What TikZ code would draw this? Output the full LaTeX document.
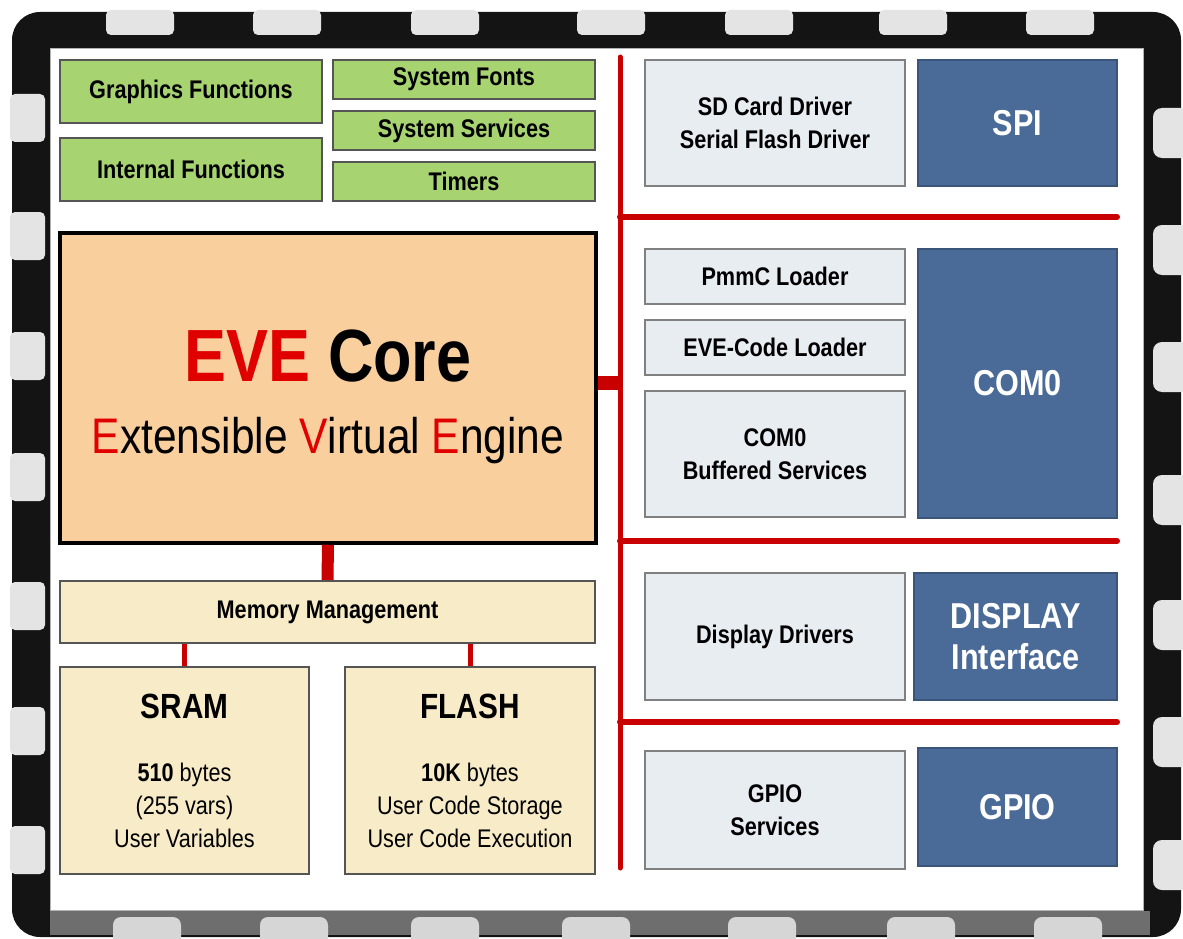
\documentclass[tikz,border=0pt]{standalone}
\usepackage{fontspec}
\setmainfont{Liberation Sans}[FakeStretch=0.85]
\usetikzlibrary{positioning}

\definecolor{chipblack}{HTML}{141414}
\definecolor{pinwhite}{HTML}{E4E4E4}
\definecolor{bandgray}{HTML}{6E6E6E}
\definecolor{pingray}{HTML}{D6D6D6}
\definecolor{funcgreen}{HTML}{A7D371}
\definecolor{corepeach}{HTML}{F9CF9E}
\definecolor{memcream}{HTML}{F8ECC8}
\definecolor{drvgray}{HTML}{E8EDF2}
\definecolor{ifblue}{HTML}{4A6A98}
\definecolor{evered}{HTML}{E00000}
\definecolor{busred}{HTML}{C80000}
\definecolor{edgegray}{HTML}{555555}

\newcommand{\chipsmall}{\fontsize{25.5}{33}\selectfont}
\newcommand{\chiphead}{\fontsize{35}{40}\selectfont}
\newcommand{\chiplabel}{\fontsize{36}{47}\selectfont}

\tikzset{
  funcbox/.style={draw=edgegray, line width=2, fill=funcgreen, font=\chipsmall\bfseries},
  drvbox/.style={draw=gray, line width=2, fill=drvgray, align=center, font=\chipsmall\bfseries},
  ifbox/.style={draw=ifblue!80!black, line width=1.5, fill=ifblue, text=white, align=center, font=\chiplabel\bfseries},
  membox/.style={draw=edgegray, line width=2, fill=memcream, align=center, font=\chipsmall},
  bus/.style={busred, line width=6, line cap=round},
}

\begin{document}
\begin{tikzpicture}[x=1pt, y=-1pt]
    \useasboundingbox (0,0) rectangle (1183,939);

    % chip body
    \fill[chipblack, rounded corners=28] (12,12) rectangle (1181,937);
    \fill[bandgray] (50,911) rectangle (1150,935);

    % pins
    \foreach \px in {106,253,411,577,725,879,1026}
        \fill[pinwhite, rounded corners=5] (\px,10) rectangle ++(68,25);
    \foreach \py in {118,236,356,477,606,731,850}
        \fill[pinwhite, rounded corners=5] (10,\py-24) rectangle ++(35,48);
    \foreach \py in {133,250,367,500,625,742,865}
        \fill[pinwhite, rounded corners=9] (1153,\py-25) rectangle ++(40,50);
    \foreach \px in {113,260,411,562,728,887,1034}
        \fill[pingray, rounded corners=8] (\px,917) rectangle ++(68,30);

    % die
    \draw[fill=white, draw=gray!60] (50,48) rectangle (1143,910);

    % function blocks
    \node[funcbox, minimum width=262, minimum height=63] (gfx) at (191,91.5) {Graphics Functions};
    \node[funcbox, minimum width=262, minimum height=63, below=13pt of gfx] (intf) {Internal Functions};
    \node[funcbox, minimum width=262, minimum height=39] (fonts) at (464,79.5) {System Fonts};
    \node[funcbox, minimum width=262, minimum height=39, below=10pt of fonts] (sysserv) {System Services};
    \node[funcbox, minimum width=262, minimum height=39, below=10pt of sysserv] (timers) {Timers};

    % core
    \node[draw=black, line width=3.5, fill=corepeach, minimum width=536, minimum height=310] (core) at (328,388) {};
    \node[align=center, font=\fontsize{50}{72}\selectfont] (coretext) at ([yshift=-9pt]core.center)
        {{\fontsize{74}{80}\selectfont\bfseries\textcolor{evered}{EVE} Core}\\
         \textcolor{evered}{E}xtensible \textcolor{evered}{V}irtual \textcolor{evered}{E}ngine};

    % memory
    \node[membox, font=\chipsmall\bfseries, minimum width=535, minimum height=62] (memmgmt) at (327.5,612) {Memory Management};
    \node[membox, minimum width=249, minimum height=207] (sram) at (184.5,770.5)
        {{\chiphead\bfseries SRAM}\\[30pt]{\bfseries 510} bytes\\(255 vars)\\User Variables};
    \node[membox, minimum width=250, minimum height=207] (flash) at (470,770.5)
        {{\chiphead\bfseries FLASH}\\[30pt]{\bfseries 10K} bytes\\User Code Storage\\User Code Execution};

    % drivers
    \node[drvbox, minimum width=260, minimum height=126] (sdcard) at (775,123) {SD Card Driver\\Serial Flash Driver};
    \node[drvbox, minimum width=260, minimum height=55] (pmmc) at (775,276.5) {PmmC Loader};
    \node[drvbox, minimum width=260, minimum height=55, below=14pt of pmmc] (evecode) {EVE-Code Loader};
    \node[drvbox, minimum width=260, minimum height=126, below=14pt of evecode] (combuf) {COM0\\Buffered Services};
    \node[drvbox, minimum width=260, minimum height=127] (dispdrv) at (775,636.5) {Display Drivers};
    \node[drvbox, minimum width=260, minimum height=118] (gpiosrv) at (775,810) {GPIO\\Services};

    % interfaces
    \node[ifbox, minimum width=199, minimum height=126] (spi) at (1017.5,123) {SPI};
    \node[ifbox, minimum width=199, minimum height=269] (com0) at (1017.5,383.5) {COM0};
    \node[ifbox, minimum width=203, minimum height=127] (dispif) at (1015.5,636.5) {DISPLAY\\[-6pt]Interface};
    \node[ifbox, minimum width=199, minimum height=118] (gpio) at (1017.5,807) {GPIO};

    % bus
    \coordinate (bustop) at (620,57);
    \coordinate (busbot) at (620,868);
    \draw[bus, line width=5] (bustop) -- (busbot);
    \foreach \by [count=\i] in {217,541,722} {
        \coordinate (rail\i) at (1117,\by);
        \draw[bus] (rail\i -| bustop) -- (rail\i);
    }

    % links
    \draw[busred, line width=14] ([yshift=5pt]core.east) -- ([yshift=5pt]core.east -| bustop);
    \draw[busred, line width=12] (core.south) -- (memmgmt.north);
    \draw[busred, line width=5] (memmgmt.south -| sram.north) -- (sram.north);
    \draw[busred, line width=5] (memmgmt.south -| flash.north) -- (flash.north);
\end{tikzpicture}
\end{document}
